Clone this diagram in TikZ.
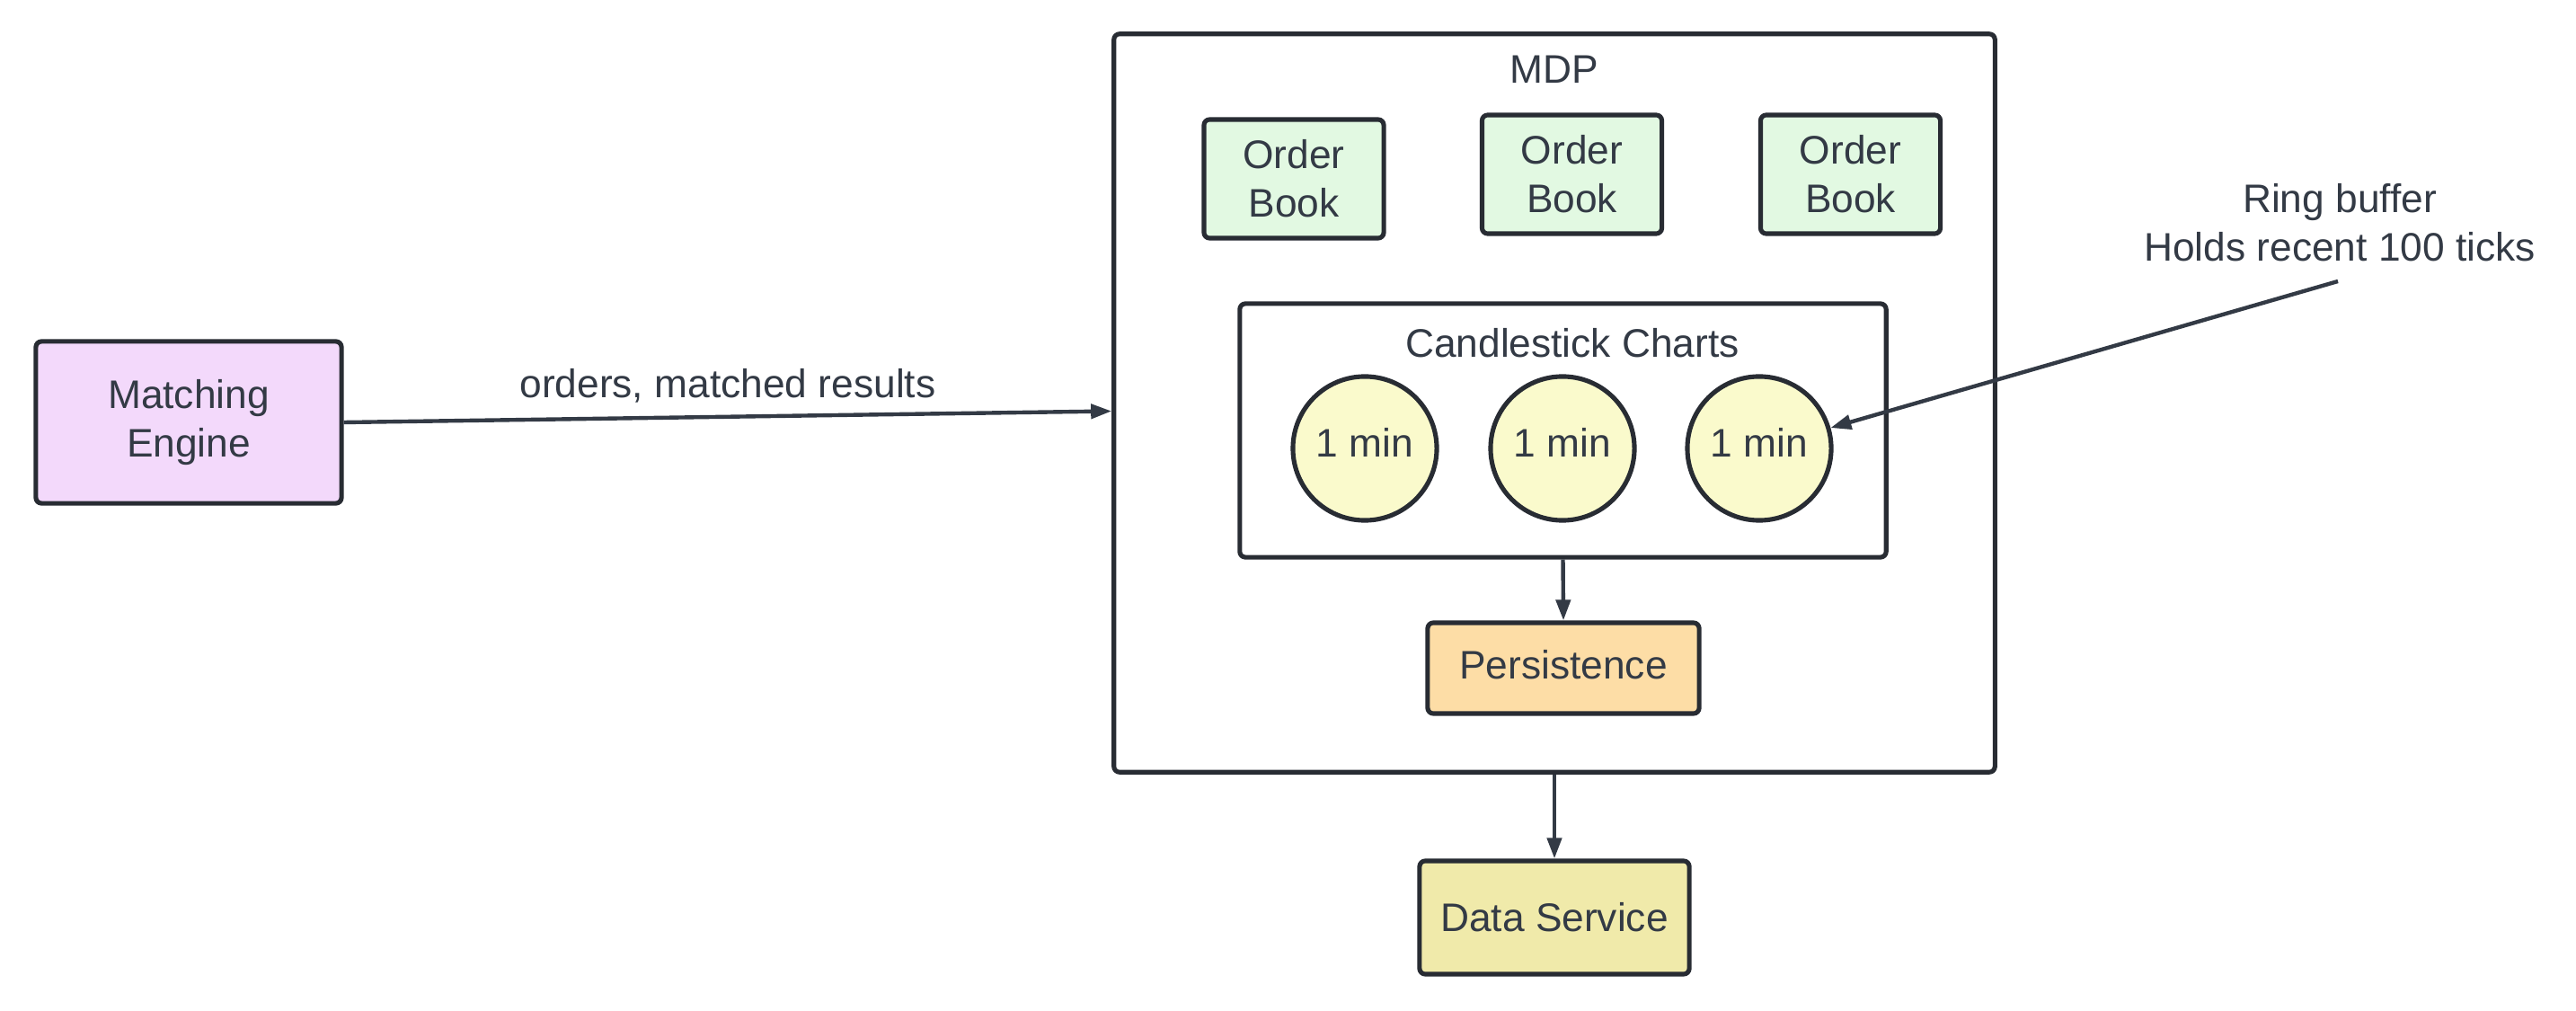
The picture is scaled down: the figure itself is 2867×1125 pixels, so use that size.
\documentclass[tikz,border=0pt]{standalone}
\usepackage{fontspec}
\setmainfont{Liberation Sans}
\usetikzlibrary{arrows.meta}
\definecolor{ink}{HTML}{282C33}
\definecolor{txt}{HTML}{333A45}
\definecolor{mefill}{HTML}{F3D9FB}
\definecolor{obfill}{HTML}{E2F9E2}
\definecolor{cfill}{HTML}{FAFACC}
\definecolor{pfill}{HTML}{FDDDA6}
\definecolor{dsfill}{HTML}{F0EAAA}
\newcommand{\upby}[2]{\raisebox{#1}{#2}}
\begin{document}
\begin{tikzpicture}[x=0.01cm,y=-0.01cm,
  font=\fontsize{12.6}{15.3}\selectfont, text=txt,
  box/.style={draw=ink, line width=1.45pt, rounded corners=1.8pt, inner sep=0pt, align=center},
  circ/.style={draw=ink, line width=1.45pt, circle, fill=cfill, inner sep=0pt, minimum size=1.6cm},
  conn/.style={draw=txt, line width=1.25pt, -{Triangle[length=0.23cm,width=0.16cm]}},
  lbl/.style={inner sep=0pt, align=center}]
\useasboundingbox (0,0) rectangle (2867,1125);
% containers
\node[box, fill=white, minimum width=9.8cm, minimum height=8.21cm] (mdp) at (1730,448.5) {};
\node[lbl] (mdpl) at (1730,77) {MDP};
\node[box, fill=mefill, minimum width=3.4cm, minimum height=1.8cm] (me) at (210,470) {Matching\\Engine};
% order books
\node[box, fill=obfill, minimum width=2.0cm, minimum height=1.32cm] (ob1) at (1440,199) {Order\\Book};
\node[box, fill=obfill, minimum width=2.0cm, minimum height=1.32cm] (ob2) at (1749.5,194) {Order\\Book};
\node[box, fill=obfill, minimum width=2.0cm, minimum height=1.32cm] (ob3) at (2059.5,194) {Order\\Book};
% candlestick charts
\node[box, fill=white, minimum width=7.19cm, minimum height=2.82cm] (cs) at (1739.5,479) {};
\node[lbl] (csl) at (1750,382) {Candlestick Charts};
\node[circ] (c1) at (1519,499) {\upby{0.13cm}{1 min}};
\node[circ] (c2) at (1739,499) {\upby{0.13cm}{1 min}};
\node[circ] (c3) at (1958,499) {\upby{0.13cm}{1 min}};
% persistence and data service
\node[box, fill=pfill, minimum width=3.02cm, minimum height=1.01cm] (per) at (1740,743.5) {\upby{0.09cm}{Persistence}};
\node[box, fill=dsfill, minimum width=3.0cm, minimum height=1.26cm] (ds) at (1730,1021) {Data Service};
% ring buffer annotation
\node[lbl] (rb) at (2604,248) {Ring buffer\\Holds recent 100 ticks};
\coordinate (rbs) at (2602,313);
% connectors
\draw[conn] (me.east) -- node[lbl, above=0.13cm] (el) {orders, matched results} ([yshift=-0.09cm]mdp.west);
\draw[conn] (cs.south) -- (per.north);
\draw[conn] (mdp.south) -- (ds.north);
\draw[conn] (rbs) -- (c3);
\end{tikzpicture}
\end{document}
